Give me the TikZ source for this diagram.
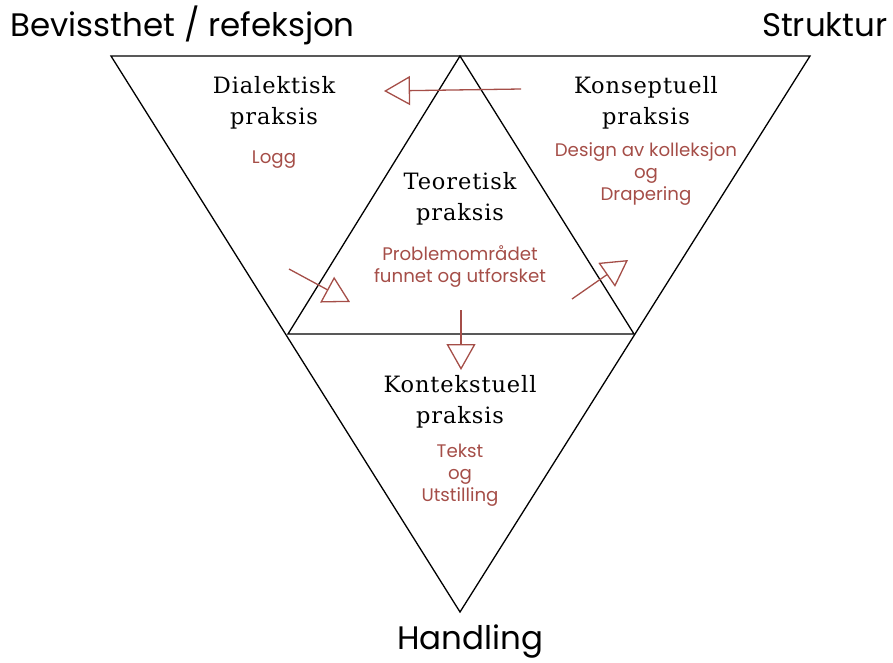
\documentclass[tikz,border=0pt]{standalone}
\usepackage{fontspec}
\setmainfont{DejaVu Serif}
\newfontfamily\headfont[LetterSpace=4]{DejaVu Serif}
\newfontfamily\gothic{Poppins}
\usetikzlibrary{arrows.meta}
\definecolor{praksisred}{RGB}{165,78,72}

\begin{document}
\begin{tikzpicture}[x=1pt,y=-1pt,line width=1.3pt,
                    >={Triangle[open,length=26pt,width=29pt,line width=1.3pt]}]
  \tikzstyle{corner}=[font=\gothic\fontsize{32.5}{36}\selectfont,inner sep=0pt]
  \tikzstyle{head}=[font=\headfont\fontsize{22.5}{31}\selectfont,align=center,inner sep=0pt]
  \tikzstyle{task}=[font=\gothic\fontsize{18.2}{22}\selectfont,text=praksisred,
                    align=center,inner sep=0pt]
  \tikzstyle{flow}=[->,draw=praksisred]

  \useasboundingbox (0,0) rectangle (893,662);

  % outer and inner triangles
  \coordinate (TL) at (111,56);
  \coordinate (TR) at (810,56);
  \coordinate (B)  at (460,612);
  \coordinate (T)  at (460,56);
  \coordinate (ML) at (288,334);
  \coordinate (MR) at (634,334);
  \draw (TL) -- (TR) -- (B) -- cycle;
  \draw (T) -- (MR) -- (ML) -- cycle;

  % corner labels
  \node[corner,anchor=west] (bev) at (10,25) {Bevissthet / refeksjon};
  \node[corner,anchor=east] (str) at (888,25) {Struktur};
  \node[corner] (han) at (470,642) {Handling};

  % fields
  \node[head] (dia) at (274,103) {Dialektisk\\praksis};
  \node[task] (logg) at (274,160) {Logg};
  \node[head] (kon) at (646,103) {Konseptuell\\praksis};
  \node[task] (des) at (646,174) {Design av kolleksjon\\og\\Drapering};
  \node[head] (teo) at (460,199) {Teoretisk\\praksis};
  \node[task] (pro) at (460,267) {Problemområdet\\funnet og utforsket};
  \node[head] (ktx) at (460,402) {Kontekstuell\\praksis};
  \node[task] (tek) at (460,475) {Tekst\\og\\Utstilling};

  % arrows
  \coordinate (a1) at (521,89);  \coordinate (b1) at (384,91);
  \coordinate (a2) at (289,269); \coordinate (b2) at (350,302);
  \coordinate (a3) at (572,299); \coordinate (b3) at (628,260);
  \coordinate (a4) at (461,310); \coordinate (b4) at (461,370);
  \draw[flow] (a1) -- (b1);
  \draw[flow] (a2) -- (b2);
  \draw[flow] (a3) -- (b3);
  \draw[flow] (a4) -- (b4);
\end{tikzpicture}
\end{document}
